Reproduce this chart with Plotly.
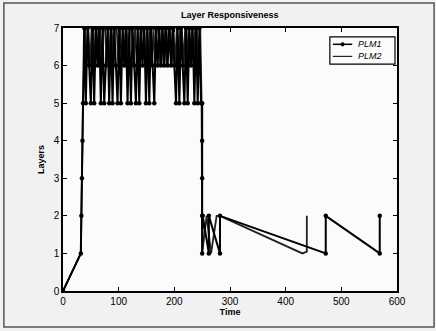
import plotly.graph_objects as go

# PLM1 data
plm1_t = [0, 32, 33, 34, 35, 36,
          38, 41, 44, 47, 50, 53, 56, 59, 62, 65, 68, 71, 74, 77, 80, 83, 86, 89, 92, 95,
          98, 101, 104, 107, 110, 113, 116, 119, 122, 125, 128, 131, 134, 137, 140, 143,
          146, 149, 152, 155, 158, 161, 164, 167, 170, 173, 176, 179, 182, 185, 188, 191,
          194, 197, 200, 203, 206, 209, 212, 215, 218, 221, 224, 227, 230, 233, 236, 239,
          242, 245, 248,
          250, 250, 250, 250, 250, 251, 262, 262, 282, 282, 472, 472, 569, 569]
plm1_v = [0, 1, 2, 3, 4, 5,
          7, 5, 7, 6, 5, 7, 5, 7, 6, 7, 5, 7, 5, 6, 7, 5, 7, 5, 7, 6,
          5, 7, 5, 7, 6, 7, 5, 7, 5, 7, 6, 5, 7, 5, 7, 6,
          7, 5, 7, 5, 7, 6, 5, 7, 6, 7, 6, 7, 6, 7, 6, 7,
          6, 7, 6, 5, 7, 5, 7, 6, 5, 7, 5, 7, 6, 7, 5, 7,
          5, 7, 5,
          5, 4, 3, 2, 1, 2, 1, 2, 1, 2, 1, 2, 1, 2]

# PLM2 data
plm2_t = [0, 32, 36,
          39.5, 42.5, 45.5, 48.5, 51.5, 54.5, 57.5, 60.5, 63.5, 66.5,
          69.5, 72.5, 75.5, 78.5, 81.5, 84.5, 87.5, 90.5, 93.5, 96.5,
          99.5, 102.5, 105.5, 108.5, 111.5, 114.5, 117.5, 120.5, 123.5, 126.5,
          129.5, 132.5, 135.5, 138.5, 141.5, 144.5, 147.5, 150.5, 153.5, 156.5,
          159.5, 162.5, 165.5, 168.5, 171.5, 174.5, 177.5, 180.5, 183.5, 186.5,
          189.5, 192.5, 195.5, 198.5, 201.5, 204.5, 207.5, 210.5, 213.5, 216.5,
          219.5, 222.5, 225.5, 228.5, 231.5, 234.5, 237.5, 240.5, 243.5, 246.5,
          249, 250, 258, 266, 276, 282, 430, 438, 438]
plm2_v = [0, 1, 5,
          7, 6, 7, 6, 7, 7, 6, 7, 6, 7,
          6, 7, 7, 6, 7, 6, 7, 6, 7, 7,
          6, 7, 6, 7, 6, 7, 6, 7, 7, 6,
          7, 6, 7, 6, 7, 7, 6, 7, 6, 7,
          6, 7, 6, 7, 7, 6, 7, 6, 7, 6,
          7, 7, 6, 7, 6, 7, 6, 7, 7, 6,
          7, 6, 7, 6, 7, 6, 7, 7, 6, 7,
          5, 1, 2, 1, 2, 2, 1, 1.05, 2]

series_names = ["PLM1", "PLM2"]
x_ticks = [0, 100, 200, 300, 400, 500, 600]
y_ticks = [0, 1, 2, 3, 4, 5, 6, 7]

fig = go.Figure()
fig.add_trace(go.Scatter(x=plm2_t, y=plm2_v, mode="lines", name=series_names[1],
                         line=dict(color="#222222", width=1.8, simplify=False)))
fig.add_trace(go.Scatter(x=plm1_t, y=plm1_v, mode="lines+markers", name=series_names[0],
                         line=dict(color="black", width=2, simplify=False),
                         marker=dict(symbol="circle", size=4.5, color="black")))

font = "Liberation Sans, Arial, sans-serif"
fig.update_layout(
    width=436, height=331,
    margin=dict(l=63, r=39, t=28, b=40),
    paper_bgcolor="#f1f1f1",
    plot_bgcolor="#fbfbfb",
    showlegend=False,
    title=dict(text="<b>Layer Responsiveness</b>", x=0.527, xanchor="center",
               y=0.955, yanchor="middle",
               font=dict(family=font, size=9, color="black")),
    font=dict(family=font, size=10, color="black"),
)
fig.update_xaxes(range=[0, 600], tickvals=x_ticks, ticktext=[str(v) for v in x_ticks],
                 ticks="inside", ticklen=4, tickcolor="black",
                 showline=True, linecolor="black", linewidth=1.5, mirror="ticks",
                 showgrid=False, zeroline=False,
                 title=dict(text="<b>Time</b>", standoff=2, font=dict(size=9)),
                 tickfont=dict(size=10, color="black"))
fig.update_yaxes(range=[0, 7], tickvals=y_ticks, ticktext=[str(v) for v in y_ticks],
                 ticks="inside", ticklen=4, tickcolor="black",
                 showline=True, linecolor="black", linewidth=1.5, mirror="ticks",
                 showgrid=False, zeroline=False,
                 title=dict(text="<b>Layers</b>", standoff=8, font=dict(size=9)),
                 tickfont=dict(size=10, color="black"))

# compact MATLAB-style legend box
lx0, lx1, ly0, ly1 = 0.799, 0.994, 0.863, 0.966
fig.add_shape(type="rect", xref="paper", yref="paper", x0=lx0, x1=lx1, y0=ly0, y1=ly1,
              line=dict(color="black", width=1.2), fillcolor="#fbfbfb", layer="above")
rows = [0.938, 0.892]
fig.add_shape(type="line", xref="paper", yref="paper", x0=0.808, x1=0.866,
              y0=rows[0], y1=rows[0], line=dict(color="black", width=1.5), layer="above")
fig.add_shape(type="circle", xref="paper", yref="paper", x0=0.831, x1=0.843,
              y0=rows[0] - 0.008, y1=rows[0] + 0.008, fillcolor="black",
              line=dict(color="black", width=0), layer="above")
fig.add_shape(type="line", xref="paper", yref="paper", x0=0.808, x1=0.866,
              y0=rows[1], y1=rows[1], line=dict(color="#222222", width=1.2), layer="above")
for name, yy in zip(series_names, rows):
    fig.add_annotation(xref="paper", yref="paper", x=0.877, y=yy, text=f"<i>{name}</i>",
                       showarrow=False, xanchor="left", yanchor="middle",
                       font=dict(family=font, size=9, color="black"))

# outer scanned frame
fig.add_shape(type="rect", xref="paper", yref="paper",
              x0=-0.177, x1=1.111, y0=-0.137, y1=1.095,
              line=dict(color="#555555", width=1.5), layer="below")

fig.write_html("out.html")
